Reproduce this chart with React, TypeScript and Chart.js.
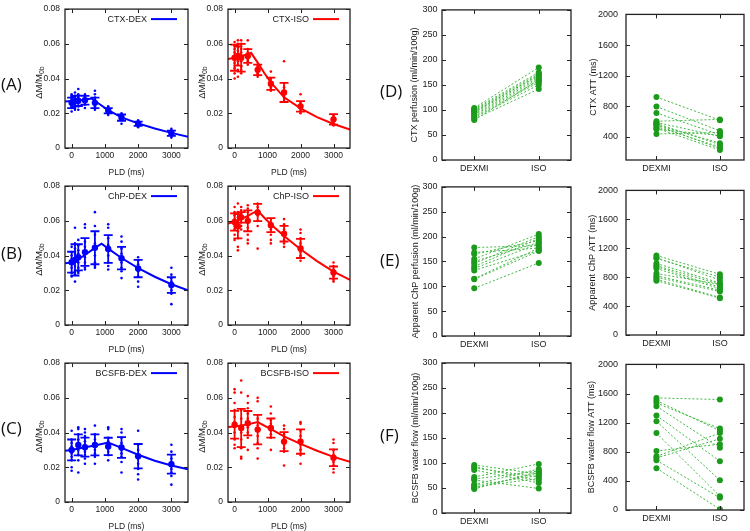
import React, { useEffect, useRef } from 'react';
import { Chart, registerables } from 'chart.js';
Chart.register(...registerables);

// ---------------- data ----------------
const PLD_AB = [0, 100, 200, 400, 700, 1100, 1500, 2000, 3000];
const PLD_C = [0, 200, 400, 700, 1100, 1500, 2000, 3000];
const X_TICKS = [0, 1000, 2000, 3000];
const DM_TICKS = [0, 0.02, 0.04, 0.06, 0.08];
const CATEGORIES = ['DEXMI', 'ISO'];
const PERF_TICKS = [0, 50, 100, 150, 200, 250, 300];
const ATT_TICKS = [0, 400, 800, 1200, 1600, 2000];
const CTX_ATT_TICKS = [400, 800, 1200, 1600, 2000];

const CTX_DEX_DOTS = [
  [0.021, 0.023, 0.024, 0.025, 0.026, 0.026, 0.027, 0.028, 0.029, 0.030, 0.031],
  [0.022, 0.024, 0.025, 0.026, 0.027, 0.028, 0.029, 0.030, 0.032],
  [0.022, 0.024, 0.026, 0.027, 0.028, 0.029, 0.030, 0.031, 0.034],
  [0.023, 0.025, 0.026, 0.027, 0.028, 0.029, 0.030, 0.031],
  [0.022, 0.024, 0.025, 0.026, 0.027, 0.028, 0.029, 0.031, 0.033],
  [0.019, 0.020, 0.021, 0.022, 0.022, 0.023, 0.024],
  [0.014, 0.016, 0.017, 0.018, 0.018, 0.019, 0.020],
  [0.012, 0.013, 0.013, 0.014, 0.015, 0.015, 0.016],
  [0.006, 0.007, 0.008, 0.008, 0.009, 0.010, 0.011],
];
const CTX_DEX_MEAN = [0.026, 0.027, 0.0272, 0.0275, 0.026, 0.0215, 0.0175, 0.014, 0.0085];
const CTX_DEX_SD = [0.003, 0.003, 0.003, 0.0025, 0.003, 0.0015, 0.0018, 0.0012, 0.0015];
const CTX_DEX_FIT_X = [-200, 0, 300, 600, 800, 1100, 1500, 2000, 2500, 3000, 3500];
const CTX_DEX_FIT_Y = [0.0268, 0.027, 0.0276, 0.0285, 0.0258, 0.0218, 0.0176, 0.0142, 0.0112, 0.0087, 0.0064];

const CTX_ISO_DOTS = [
  [0.040, 0.043, 0.046, 0.049, 0.051, 0.053, 0.055, 0.057, 0.059, 0.061],
  [0.041, 0.045, 0.048, 0.050, 0.052, 0.054, 0.056, 0.058, 0.060, 0.062],
  [0.043, 0.045, 0.047, 0.050, 0.053, 0.055, 0.057, 0.060, 0.062],
  [0.048, 0.050, 0.051, 0.052, 0.053, 0.054, 0.055, 0.057, 0.062],
  [0.041, 0.042, 0.043, 0.044, 0.045, 0.046, 0.047, 0.048],
  [0.033, 0.034, 0.035, 0.036, 0.037, 0.038, 0.040, 0.044],
  [0.027, 0.029, 0.030, 0.031, 0.032, 0.033, 0.035, 0.050],
  [0.020, 0.021, 0.022, 0.023, 0.024, 0.025, 0.026, 0.031],
  [0.013, 0.014, 0.015, 0.016, 0.017, 0.018, 0.019],
];
const CTX_ISO_MEAN = [0.052, 0.053, 0.052, 0.053, 0.045, 0.037, 0.032, 0.024, 0.0165];
const CTX_ISO_SD = [0.0075, 0.0055, 0.008, 0.004, 0.003, 0.0035, 0.0055, 0.003, 0.003];
const CTX_ISO_FIT_X = [-200, 0, 200, 400, 500, 700, 900, 1100, 1500, 2000, 2500, 3000, 3500];
const CTX_ISO_FIT_Y = [0.0512, 0.052, 0.053, 0.054, 0.0548, 0.0492, 0.0432, 0.0378, 0.0292, 0.0228, 0.0178, 0.0138, 0.0106];

const CHP_DEX_DOTS = [
  [0.028, 0.030, 0.033, 0.035, 0.036, 0.038, 0.040, 0.042, 0.045],
  [0.025, 0.029, 0.031, 0.034, 0.036, 0.038, 0.041, 0.044, 0.047, 0.056],
  [0.030, 0.031, 0.033, 0.036, 0.039, 0.041, 0.043, 0.046, 0.049],
  [0.032, 0.033, 0.036, 0.039, 0.042, 0.045, 0.048, 0.056, 0.058],
  [0.033, 0.034, 0.036, 0.040, 0.044, 0.047, 0.052, 0.057, 0.065],
  [0.032, 0.034, 0.036, 0.040, 0.043, 0.046, 0.050, 0.056, 0.058],
  [0.027, 0.031, 0.033, 0.036, 0.038, 0.041, 0.044, 0.048, 0.051],
  [0.022, 0.025, 0.028, 0.031, 0.033, 0.035, 0.037, 0.039],
  [0.012, 0.018, 0.020, 0.022, 0.023, 0.025, 0.027, 0.029, 0.033],
];
const CHP_DEX_MEAN = [0.0362, 0.0375, 0.039, 0.042, 0.0445, 0.0438, 0.0385, 0.0325, 0.023];
const CHP_DEX_SD = [0.006, 0.009, 0.0075, 0.008, 0.0095, 0.008, 0.0065, 0.005, 0.0045];
const CHP_DEX_FIT_X = [-200, 0, 200, 400, 700, 900, 1100, 1500, 2000, 2500, 3000, 3500];
const CHP_DEX_FIT_Y = [0.0355, 0.036, 0.038, 0.0403, 0.0444, 0.0468, 0.044, 0.0386, 0.0328, 0.0278, 0.0235, 0.02];

const CHP_ISO_DOTS = [
  [0.049, 0.052, 0.055, 0.057, 0.059, 0.061, 0.063, 0.065, 0.068],
  [0.043, 0.045, 0.050, 0.054, 0.057, 0.060, 0.062, 0.065, 0.070],
  [0.055, 0.057, 0.059, 0.061, 0.062, 0.064, 0.066, 0.068],
  [0.047, 0.049, 0.052, 0.056, 0.059, 0.062, 0.065, 0.067, 0.069],
  [0.044, 0.057, 0.060, 0.063, 0.065, 0.066, 0.068, 0.070],
  [0.047, 0.049, 0.052, 0.055, 0.057, 0.059, 0.061],
  [0.045, 0.047, 0.049, 0.051, 0.053, 0.055, 0.058, 0.061],
  [0.037, 0.039, 0.040, 0.042, 0.044, 0.047, 0.050, 0.053, 0.055],
  [0.025, 0.026, 0.028, 0.029, 0.030, 0.032, 0.034, 0.036],
];
const CHP_ISO_MEAN = [0.0593, 0.0569, 0.062, 0.06, 0.0648, 0.0575, 0.0526, 0.0441, 0.0302];
const CHP_ISO_SD = [0.005, 0.007, 0.003, 0.006, 0.005, 0.004, 0.0045, 0.0055, 0.0035];
const CHP_ISO_FIT_X = [-200, 0, 200, 400, 700, 900, 1100, 1500, 2000, 2500, 3000, 3500];
const CHP_ISO_FIT_Y = [0.0585, 0.0595, 0.061, 0.0628, 0.066, 0.0618, 0.058, 0.0512, 0.0436, 0.0368, 0.0308, 0.026];

const BCSFB_DEX_DOTS = [
  [0.018, 0.020, 0.024, 0.026, 0.028, 0.030, 0.032, 0.034, 0.036, 0.041],
  [0.017, 0.024, 0.027, 0.030, 0.032, 0.034, 0.036, 0.039, 0.042, 0.043],
  [0.022, 0.025, 0.027, 0.029, 0.031, 0.033, 0.035, 0.038, 0.040, 0.042],
  [0.022, 0.026, 0.028, 0.030, 0.032, 0.034, 0.036, 0.039, 0.044],
  [0.024, 0.027, 0.029, 0.031, 0.032, 0.033, 0.035, 0.037, 0.042, 0.043],
  [0.017, 0.023, 0.026, 0.028, 0.030, 0.032, 0.034, 0.037, 0.040, 0.042],
  [0.013, 0.016, 0.019, 0.022, 0.025, 0.027, 0.030, 0.033, 0.041],
  [0.010, 0.015, 0.017, 0.019, 0.021, 0.023, 0.025, 0.029, 0.033],
];
const BCSFB_DEX_MEAN = [0.03, 0.0329, 0.0316, 0.0329, 0.032, 0.0314, 0.0264, 0.0218];
const BCSFB_DEX_SD = [0.006, 0.006, 0.0055, 0.006, 0.005, 0.006, 0.007, 0.0055];
const BCSFB_DEX_FIT_X = [-200, 0, 400, 700, 1100, 1500, 2000, 2500, 3000, 3500];
const BCSFB_DEX_FIT_Y = [0.0295, 0.03, 0.0315, 0.0326, 0.0342, 0.0312, 0.0272, 0.0238, 0.021, 0.0188];

const BCSFB_ISO_DOTS = [
  [0.031, 0.033, 0.036, 0.040, 0.043, 0.046, 0.049, 0.053, 0.057, 0.063, 0.065],
  [0.025, 0.026, 0.031, 0.036, 0.040, 0.044, 0.048, 0.053, 0.063, 0.070],
  [0.030, 0.037, 0.040, 0.043, 0.045, 0.048, 0.051, 0.054, 0.057, 0.061],
  [0.025, 0.031, 0.034, 0.038, 0.041, 0.044, 0.048, 0.058, 0.060],
  [0.030, 0.037, 0.039, 0.041, 0.043, 0.045, 0.047, 0.051, 0.055],
  [0.021, 0.029, 0.031, 0.033, 0.035, 0.037, 0.039, 0.042, 0.044],
  [0.022, 0.027, 0.030, 0.033, 0.035, 0.038, 0.041, 0.045, 0.046],
  [0.017, 0.019, 0.021, 0.023, 0.025, 0.027, 0.030, 0.034, 0.036],
];
const BCSFB_ISO_MEAN = [0.0445, 0.0426, 0.0454, 0.0417, 0.0426, 0.0348, 0.0348, 0.0255];
const BCSFB_ISO_SD = [0.008, 0.011, 0.007, 0.0085, 0.0055, 0.0055, 0.007, 0.0048];
const BCSFB_ISO_FIT_X = [-200, 0, 400, 700, 1100, 1500, 2000, 2500, 3000, 3500];
const BCSFB_ISO_FIT_Y = [0.0432, 0.0435, 0.0447, 0.046, 0.042, 0.0378, 0.0335, 0.0295, 0.026, 0.0232];

const CTX_PERF_DEX = [104, 100, 98, 95, 92, 90, 87, 85, 82, 80, 102, 96];
const CTX_PERF_ISO = [185, 172, 168, 165, 162, 158, 155, 150, 142, 160, 175, 170];
const CTX_ATT_DEX = [921, 797, 714, 606, 590, 577, 556, 535, 515, 500, 440, 560];
const CTX_ATT_ISO = [620, 480, 430, 630, 410, 300, 250, 270, 230, 420, 460, 320];
const CHP_PERF_DEX = [178, 168, 165, 155, 150, 146, 140, 136, 132, 115, 114, 96];
const CHP_PERF_ISO = [182, 177, 192, 205, 188, 200, 196, 186, 172, 177, 171, 147];
const CHP_ATT_DEX = [1100, 1070, 1060, 990, 960, 945, 920, 850, 820, 800, 770, 750];
const CHP_ATT_ISO = [840, 760, 800, 720, 700, 660, 640, 700, 620, 600, 520, 510];
const BCSFB_FLOW_DEX = [96, 93, 90, 86, 72, 68, 66, 57, 55, 52, 50, 48];
const BCSFB_FLOW_ISO = [78, 64, 72, 60, 98, 84, 49, 88, 75, 69, 80, 83];
const BCSFB_ATT_DEX = [1539, 1504, 1469, 1425, 1298, 1219, 1057, 811, 737, 715, 684, 575];
const BCSFB_ATT_ISO = [1518, 1088, 1118, 855, 671, 408, 189, 904, 1057, 978, 167, 10];

// ---------------- styles ----------------
const FONT = "'Liberation Sans', Arial, sans-serif";
const TXT = '#1a1a1a';
const BLUE = '#0000ff';
const RED = '#ff0000';
const GREEN_PT = '#1c9a1c';
const GREEN_LINE = '#42b842';
const PT = 6;
const PR = 4;
const YW = 45;
const XH = 30;

const framePlugin = {
  id: 'frame',
  afterDraw(chart: any) {
    const { ctx, chartArea: a, scales } = chart;
    ctx.save();
    ctx.strokeStyle = '#222';
    ctx.lineWidth = 1.3;
    ctx.strokeRect(a.left, a.top, a.right - a.left, a.bottom - a.top);
    ctx.lineWidth = 1;
    ctx.beginPath();
    const L = 4;
    for (const t of scales.x.ticks) {
      const px = Math.round(scales.x.getPixelForValue(t.value)) + 0.5;
      ctx.moveTo(px, a.bottom); ctx.lineTo(px, a.bottom - L);
      ctx.moveTo(px, a.top); ctx.lineTo(px, a.top + L);
    }
    for (const t of scales.y.ticks) {
      const py = Math.round(scales.y.getPixelForValue(t.value)) + 0.5;
      ctx.moveTo(a.left, py); ctx.lineTo(a.left + L, py);
      ctx.moveTo(a.right, py); ctx.lineTo(a.right - L, py);
    }
    ctx.stroke();
    ctx.restore();
  },
};

function makeErrorBars(sd: number[], color: string, index: number) {
  return {
    id: 'errbars',
    afterDatasetsDraw(chart: any) {
      const { ctx, scales } = chart;
      const x = scales.x, y = scales.y;
      const ds = chart.data.datasets[index];
      ctx.save();
      ctx.strokeStyle = color;
      ctx.lineWidth = 1.8;
      ctx.beginPath();
      ds.data.forEach((p: any, i: number) => {
        const px = x.getPixelForValue(p.x);
        const lo = y.getPixelForValue(p.y - sd[i]);
        const hi = y.getPixelForValue(p.y + sd[i]);
        ctx.moveTo(px, lo); ctx.lineTo(px, hi);
        ctx.moveTo(px - 4.5, lo); ctx.lineTo(px + 4.5, lo);
        ctx.moveTo(px - 4.5, hi); ctx.lineTo(px + 4.5, hi);
      });
      ctx.stroke();
      ctx.restore();
    },
  };
}

function makeKey(text: string, color: string) {
  return {
    id: 'keyline',
    afterDraw(chart: any) {
      const { ctx, chartArea: a } = chart;
      ctx.save();
      ctx.font = `9px ${FONT}`;
      ctx.fillStyle = TXT;
      ctx.textAlign = 'right';
      ctx.textBaseline = 'middle';
      const y = a.top + 10;
      ctx.fillText(text, a.right - 41, y);
      ctx.strokeStyle = color;
      ctx.lineWidth = 2;
      ctx.beginPath();
      ctx.moveTo(a.right - 37, y);
      ctx.lineTo(a.right - 11, y);
      ctx.stroke();
      ctx.restore();
    },
  };
}

function makeDmLabel() {
  return {
    id: 'dmlabel',
    afterDraw(chart: any) {
      const { ctx, chartArea: a } = chart;
      const main = 'ΔM/M';
      const sub = '0b';
      ctx.save();
      ctx.translate(a.left - 26, (a.top + a.bottom) / 2 + 4);
      ctx.rotate(-Math.PI / 2);
      ctx.fillStyle = TXT;
      ctx.textBaseline = 'middle';
      ctx.textAlign = 'left';
      ctx.font = `9.5px ${FONT}`;
      const mw = ctx.measureText(main).width;
      ctx.font = `7px ${FONT}`;
      const sw = ctx.measureText(sub).width;
      const start = -(mw + sw) / 2;
      ctx.font = `9.5px ${FONT}`;
      ctx.fillText(main, start, 0);
      ctx.font = `7px ${FONT}`;
      ctx.fillText(sub, start + mw, 2.8);
      ctx.restore();
    },
  };
}

type LeftSpec = {
  legend: string; color: string; plds: number[]; dots: number[][];
  mean: number[]; sd: number[]; fitX: number[]; fitY: number[];
};

function leftConfig(s: LeftSpec): any {
  const dotData: any[] = [];
  s.plds.forEach((p, i) => s.dots[i].forEach((v) => dotData.push({ x: p, y: v })));
  const meanData = s.plds.map((p, i) => ({ x: p, y: s.mean[i] }));
  const fitData = s.fitX.map((x, i) => ({ x, y: s.fitY[i] }));
  const tickFont = { family: FONT, size: 8.5 };
  return {
    type: 'scatter',
    data: {
      datasets: [
        { label: s.legend, data: fitData, showLine: true, borderColor: s.color, borderWidth: 2, pointRadius: 0, tension: 0 },
        { label: s.legend + ' individual', data: dotData, pointRadius: 1.3, pointBackgroundColor: s.color, pointBorderWidth: 0, backgroundColor: s.color, borderColor: s.color },
        { label: s.legend + ' mean', data: meanData, pointRadius: 3.2, pointBackgroundColor: s.color, pointBorderWidth: 0, backgroundColor: s.color, borderColor: s.color },
      ],
    },
    options: {
      animation: false,
      responsive: false,
      events: [],
      layout: { padding: { top: PT, right: PR, left: 0, bottom: 0 } },
      plugins: { legend: { display: false }, tooltip: { enabled: false } },
      scales: {
        x: {
          type: 'linear', min: -200, max: 3500,
          border: { display: false }, grid: { display: false, drawTicks: false },
          afterBuildTicks: (sc: any) => { sc.ticks = X_TICKS.map((v) => ({ value: v })); },
          afterFit: (sc: any) => { sc.height = XH; },
          ticks: { padding: 2.4, color: TXT, font: tickFont, maxRotation: 0, autoSkip: false, callback: (v: any) => String(v) },
          title: { display: true, text: 'PLD (ms)', color: TXT, font: tickFont, padding: { top: 0, bottom: 0 } },
        },
        y: {
          type: 'linear', min: 0, max: 0.08,
          border: { display: false }, grid: { display: false, drawTicks: false },
          afterBuildTicks: (sc: any) => { sc.ticks = DM_TICKS.map((v) => ({ value: v })); },
          afterFit: (sc: any) => { sc.width = YW; },
          ticks: { padding: 5, color: TXT, font: tickFont, autoSkip: false, callback: (v: any) => (v === 0 ? '0' : Number(v).toFixed(2)) },
        },
      },
    },
    plugins: [framePlugin, makeErrorBars(s.sd, s.color, 2), makeKey(s.legend, s.color), makeDmLabel()],
  };
}

type PairSpec = {
  title: string; dex: number[]; iso: number[]; yMin: number; yMax: number;
  yTicks: number[]; xMin: number; xMax: number; titleOffset: number; tickPad: number;
};

function pairConfig(s: PairSpec): any {
  const tickFont = { family: FONT, size: 9 };
  return {
    type: 'scatter',
    data: {
      datasets: s.dex.map((d, i) => ({
        label: `Subject ${i + 1}`,
        data: [{ x: 0, y: d }, { x: 1, y: s.iso[i] }],
        showLine: true, borderColor: GREEN_LINE, borderWidth: 1, borderDash: [2, 2],
        pointRadius: 3, pointBackgroundColor: GREEN_PT, pointBorderWidth: 0, backgroundColor: GREEN_PT,
      })),
    },
    options: {
      animation: false,
      responsive: false,
      events: [],
      layout: { padding: { top: PT, right: PR, left: 0, bottom: 0 } },
      plugins: { legend: { display: false }, tooltip: { enabled: false } },
      scales: {
        x: {
          type: 'linear', min: s.xMin, max: s.xMax,
          border: { display: false }, grid: { display: false, drawTicks: false },
          afterBuildTicks: (sc: any) => { sc.ticks = CATEGORIES.map((_, i) => ({ value: i })); },
          afterFit: (sc: any) => { sc.height = XH; },
          ticks: { padding: 3, color: TXT, font: tickFont, maxRotation: 0, autoSkip: false, callback: (v: any) => CATEGORIES[Math.round(Number(v))] },
        },
        y: {
          type: 'linear', min: s.yMin, max: s.yMax,
          border: { display: false }, grid: { display: false, drawTicks: false },
          afterBuildTicks: (sc: any) => { sc.ticks = s.yTicks.map((v) => ({ value: v })); },
          afterFit: (sc: any) => { sc.width = YW; },
          ticks: { padding: s.tickPad, color: TXT, font: tickFont, autoSkip: false, callback: (v: any) => String(v) },
          title: { display: true, text: s.title, color: TXT, font: { family: FONT, size: 9 }, padding: { top: YW - s.titleOffset - 5.4, bottom: 0 } },
        },
      },
    },
    plugins: [framePlugin],
  };
}

function ChartPanel({ x0, y0, x1, y1, make }: { x0: number; y0: number; x1: number; y1: number; make: () => any }) {
  const ref = useRef<HTMLCanvasElement | null>(null);
  const w = YW + (x1 - x0) + PR;
  const h = PT + (y1 - y0) + XH;
  useEffect(() => {
    const chart = new Chart(ref.current as HTMLCanvasElement, make());
    return () => chart.destroy();
  }, []);
  return (
    <canvas
      ref={ref}
      width={w}
      height={h}
      style={{ position: 'absolute', left: x0 - YW, top: y0 - PT, width: w, height: h }}
    />
  );
}

const LEFT_SPECS: { x0: number; y0: number; x1: number; y1: number; spec: LeftSpec }[] = [
  { x0: 65, y0: 5, x1: 188, y1: 148, spec: { legend: 'CTX-DEX', color: BLUE, plds: PLD_AB, dots: CTX_DEX_DOTS, mean: CTX_DEX_MEAN, sd: CTX_DEX_SD, fitX: CTX_DEX_FIT_X, fitY: CTX_DEX_FIT_Y } },
  { x0: 228, y0: 5, x1: 350, y1: 148, spec: { legend: 'CTX-ISO', color: RED, plds: PLD_AB, dots: CTX_ISO_DOTS, mean: CTX_ISO_MEAN, sd: CTX_ISO_SD, fitX: CTX_ISO_FIT_X, fitY: CTX_ISO_FIT_Y } },
  { x0: 65, y0: 182, x1: 188, y1: 325, spec: { legend: 'ChP-DEX', color: BLUE, plds: PLD_AB, dots: CHP_DEX_DOTS, mean: CHP_DEX_MEAN, sd: CHP_DEX_SD, fitX: CHP_DEX_FIT_X, fitY: CHP_DEX_FIT_Y } },
  { x0: 228, y0: 182, x1: 350, y1: 325, spec: { legend: 'ChP-ISO', color: RED, plds: PLD_AB, dots: CHP_ISO_DOTS, mean: CHP_ISO_MEAN, sd: CHP_ISO_SD, fitX: CHP_ISO_FIT_X, fitY: CHP_ISO_FIT_Y } },
  { x0: 65, y0: 359, x1: 188, y1: 502, spec: { legend: 'BCSFB-DEX', color: BLUE, plds: PLD_C, dots: BCSFB_DEX_DOTS, mean: BCSFB_DEX_MEAN, sd: BCSFB_DEX_SD, fitX: BCSFB_DEX_FIT_X, fitY: BCSFB_DEX_FIT_Y } },
  { x0: 228, y0: 359, x1: 350, y1: 502, spec: { legend: 'BCSFB-ISO', color: RED, plds: PLD_C, dots: BCSFB_ISO_DOTS, mean: BCSFB_ISO_MEAN, sd: BCSFB_ISO_SD, fitX: BCSFB_ISO_FIT_X, fitY: BCSFB_ISO_FIT_Y } },
];

const PAIR_SPECS: { x0: number; y0: number; x1: number; y1: number; spec: PairSpec }[] = [
  { x0: 442, y0: 6, x1: 571, y1: 160, spec: { title: 'CTX perfusion (ml/min/100g)', dex: CTX_PERF_DEX, iso: CTX_PERF_ISO, yMin: 0, yMax: 300, yTicks: PERF_TICKS, xMin: -0.5, xMax: 1.5, titleOffset: 27, tickPad: 4.5 } },
  { x0: 626, y0: 7, x1: 744, y1: 160, spec: { title: 'CTX ATT (ms)', dex: CTX_ATT_DEX, iso: CTX_ATT_ISO, yMin: 100, yMax: 2000, yTicks: CTX_ATT_TICKS, xMin: -0.48, xMax: 1.38, titleOffset: 32, tickPad: 8 } },
  { x0: 442, y0: 183, x1: 571, y1: 336, spec: { title: 'Apparent ChP perfusion (ml/min/100g)', dex: CHP_PERF_DEX, iso: CHP_PERF_ISO, yMin: 0, yMax: 300, yTicks: PERF_TICKS, xMin: -0.5, xMax: 1.5, titleOffset: 26, tickPad: 4.5 } },
  { x0: 626, y0: 183, x1: 744, y1: 335, spec: { title: 'Apparent ChP ATT (ms)', dex: CHP_ATT_DEX, iso: CHP_ATT_ISO, yMin: 0, yMax: 2000, yTicks: ATT_TICKS, xMin: -0.48, xMax: 1.38, titleOffset: 33, tickPad: 8 } },
  { x0: 442, y0: 359, x1: 571, y1: 513, spec: { title: 'BCSFB water flow (ml/min/100g)', dex: BCSFB_FLOW_DEX, iso: BCSFB_FLOW_ISO, yMin: 0, yMax: 300, yTicks: PERF_TICKS, xMin: -0.5, xMax: 1.5, titleOffset: 26, tickPad: 4.5 } },
  { x0: 626, y0: 357, x1: 744, y1: 510, spec: { title: 'BCSFB water flow ATT (ms)', dex: BCSFB_ATT_DEX, iso: BCSFB_ATT_ISO, yMin: 0, yMax: 2000, yTicks: ATT_TICKS, xMin: -0.48, xMax: 1.38, titleOffset: 34, tickPad: 8 } },
];

const LETTERS: [string, number, number][] = [
  ['(A)', 1, 75], ['(B)', 1, 244], ['(C)', 1, 419],
  ['(D)', 380, 82], ['(E)', 380, 251], ['(F)', 380, 426],
];

export default function App() {
  return (
    <div style={{ position: 'absolute', left: 0, top: 0, width: 750, height: 531, background: '#fff', overflow: 'hidden' }}>
      {LEFT_SPECS.map((p, i) => (
        <ChartPanel key={'l' + i} x0={p.x0} y0={p.y0} x1={p.x1} y1={p.y1} make={() => leftConfig(p.spec)} />
      ))}
      {PAIR_SPECS.map((p, i) => (
        <ChartPanel key={'r' + i} x0={p.x0} y0={p.y0} x1={p.x1} y1={p.y1} make={() => pairConfig(p.spec)} />
      ))}
      {LETTERS.map(([t, x, y]) => (
        <div key={t} style={{ position: 'absolute', left: x, top: y, fontFamily: "'Open Sans', sans-serif", fontSize: 17, lineHeight: '18px', color: '#111' }}>{t}</div>
      ))}
    </div>
  );
}
